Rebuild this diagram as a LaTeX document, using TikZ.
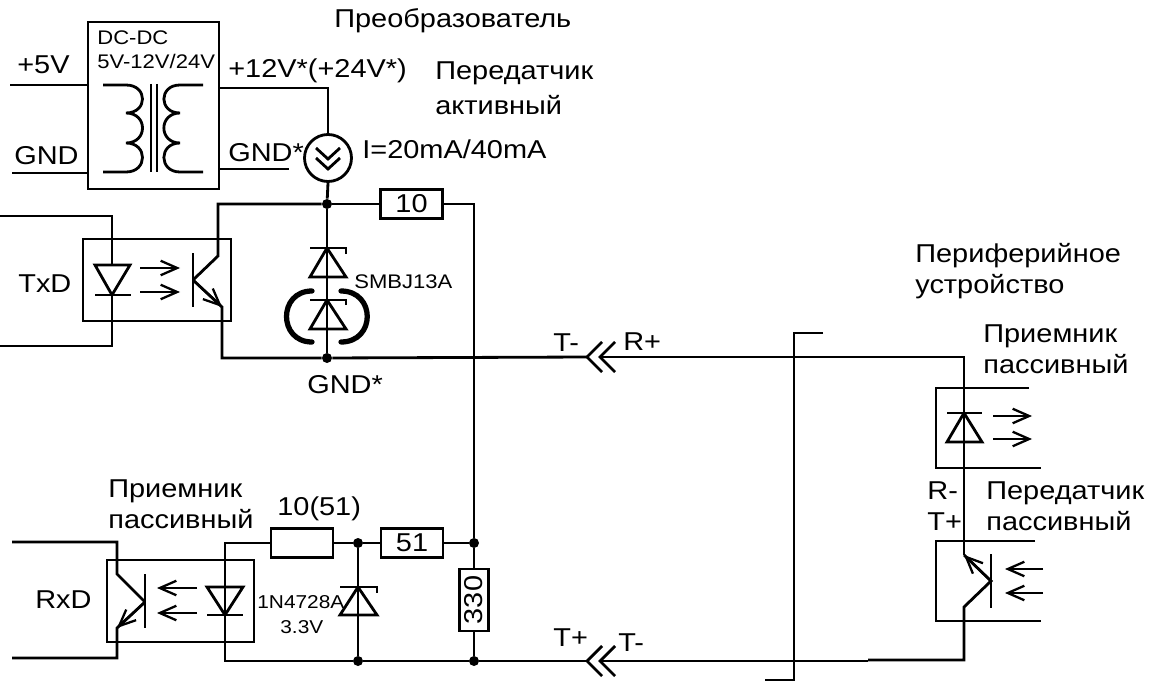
\documentclass[tikz,border=0pt]{standalone}
\usepackage{fontspec}
\setmainfont[FakeStretch=1.12]{Liberation Sans}
\usetikzlibrary{calc}
\usetikzlibrary{positioning}
\usetikzlibrary{arrows.meta}
\tikzset{
    wire/.style={line width=1.6pt, line join=miter},
    heavy/.style={line width=3pt, line cap=round},
    lightarrow/.style={line width=1.3pt, -{Straight Barb[length=3.3mm,width=2.9mm,line width=1.3pt]}},
    dot/.style={circle, fill=black, inner sep=0pt, minimum size=0.2cm},
    res/.style={draw, rectangle, line width=1.6pt, inner sep=0pt, minimum width=1.24cm, minimum height=0.58cm, font=\fontsize{14.7}{17}\selectfont},
    lbl/.style={anchor=base west, inner sep=0pt, font=\fontsize{14.7}{17}\selectfont},
    small/.style={anchor=base west, inner sep=0pt, font=\fontsize{11.2}{13}\selectfont}
}
\begin{document}
\begin{tikzpicture}[x=0.02cm, y=-0.02cm]
    \useasboundingbox (0,0) rectangle (1152,682);

    % Junctions
    \node[dot] (j1) at (327,204) {};
    \node[dot] (j2) at (327,358) {};
    \node[dot] (j3) at (358,543) {};
    \node[dot] (j4) at (474,543) {};
    \node[dot] (j5) at (358,661) {};
    \node[dot] (j6) at (474,661) {};

    % DC-DC converter
    \node[draw, wire, minimum width=2.62cm, minimum height=3.34cm, inner sep=0pt] (dcdc) at (153.5,105.5) {};
    \coordinate (in5v) at (10,85);
    \coordinate (ingnd) at (12,173);
    \coordinate (outv) at (219,88);
    \coordinate (outgnd) at (289,169);
    \draw[wire] (in5v) -- (in5v -| dcdc.west);
    \draw[wire] (ingnd) -- (ingnd -| dcdc.west);
    \draw[wire] (103,85) -- (126,85)
        .. controls (148,85) and (148,113) .. (126,113)
        .. controls (148,113) and (148,143) .. (126,143)
        .. controls (148,143) and (148,172) .. (126,172) -- (103,172);
    \draw[wire] (203,85) -- (180,85)
        .. controls (158.5,85) and (158.5,113) .. (180,113)
        .. controls (158.5,113) and (158.5,143) .. (180,143)
        .. controls (158.5,143) and (158.5,172) .. (180,172) -- (203,172);
    \draw[wire] (151,84) -- (151,172);
    \draw[wire] (157,84) -- (157,172);
    \node[small] (dclabel) at (97,45) {DC-DC};
    \node[small] (dcratio) at (97,69) {5V-12V/24V};
    \node[lbl] (plus5) at (17,74) {+5V};
    \node[lbl] (gndin) at (14,165) {GND};

    % Current source
    \node[draw, wire, circle, inner sep=0pt, minimum size=0.94cm] (csrc) at (328,158) {};
    \draw[wire] (outv -| dcdc.east) -- (outv) -- (outv -| csrc.north) -- (csrc.north);
    \draw[wire] (outgnd -| dcdc.east) -- (outgnd);
    \draw[wire] (316,148) -- (328,159) -- (340,148);
    \draw[wire] (316,158) -- (328,169) -- (340,158);
    \draw[wire] (csrc.south) -- (j1);
    \node[lbl] (plus12) at (228,78) {+12V*(+24V*)};
    \node[lbl] (gndout) at (228,162) {GND*};
    \node[lbl] (ilabel) at (362,159) {I=20mA/40mA};
    \node[lbl] (convtitle) at (334,28) {Преобразователь};
    \node[lbl] (txtitle) at (435,80) {Передатчик};
    \node[lbl] (txtitleb) at (435,115) {активный};

    % Transmit optocoupler
    \node[draw, wire, minimum width=2.96cm, minimum height=1.64cm, inner sep=0pt] (txbox) at (157,280) {};
    \coordinate (txa) at (0,216);
    \coordinate (txk) at (0,346);
    \draw[wire] (txa) -- (112,216) -- (112,265);
    \draw[wire] (95,265) -- (130,265) -- (112,295) -- cycle;
    \draw[wire] (95,295) -- (131,295);
    \draw[wire] (112,295) -- (112,346) -- (txk);
    \draw[lightarrow] (140,268) -- (180,268);
    \draw[lightarrow] (140,292) -- (180,292);
    \draw[wire] (193,253) -- (193,307);
    \draw[wire] (j1) -- (218,204) -- (218,256) -- (193,280);
    \draw[wire] (193,280) -- (222,307) -- (222,358) -- (j2);
    \draw[lightarrow] (193,280) -- (222,307);
    \node[lbl] (txd) at (18,292) {TxD};

    % Protection diodes
    \draw[wire] (j1) -- (j2);
    \draw[wire] (346,254) -- (346,248) -- (310,248);
    \draw[wire] (327,248) -- (310,277) -- (346,277) -- cycle;
    \draw[wire] (346,305) -- (346,300) -- (310,300);
    \draw[wire] (327,300) -- (310,329) -- (346,329) -- cycle;
    \draw[heavy] (312,291) .. controls (278,291) and (278,342) .. (312,342);
    \draw[heavy] (341,291) .. controls (376,291) and (376,342) .. (341,342);
    \node[small] (smbj) at (354,288) {SMBJ13A};
    \node[lbl] (gndstar) at (307,393) {GND*};

    % Resistors
    \node[res] (r10) at (411.5,204) {10};
    \node[res] (r1051) at (302,543) {};
    \node[res] (r51) at (412,543) {51};
    \node[res, rotate=90] (r330) at (474,600) {330};
    \draw[wire] (j1) -- (r10.west);
    \draw[wire] (r10.east) -- (474,204) -- (j4);
    \draw[wire] (r1051.east) -- (j3) -- (r51.west);
    \draw[wire] (r51.east) -- (j4) -- (r330.east);
    \draw[wire] (r330.west) -- (j6);
    \node[lbl] (r1051val) at (277,515) {10(51)};

    % Receive optocoupler
    \node[draw, wire, minimum width=2.94cm, minimum height=1.64cm, inner sep=0pt] (rxbox) at (180.5,601) {};
    \coordinate (rxc) at (12,542);
    \coordinate (rxe) at (12,658);
    \draw[wire] (rxc) -- (117,542) -- (117,574) -- (145,602);
    \draw[wire] (145,574) -- (145,628);
    \draw[wire] (145,602) -- (117,628) -- (117,658) -- (rxe);
    \draw[lightarrow] (145,602) -- (117,628);
    \draw[lightarrow] (197,588) -- (157,588);
    \draw[lightarrow] (197,613) -- (157,613);
    \draw[wire] (r1051.west) -- (225,543) -- (225,661) -- (j5);
    \draw[wire] (207,587) -- (243,587) -- (225,615) -- cycle;
    \draw[wire] (207,615) -- (243,615);
    \node[lbl] (rxd) at (35,608) {RxD};
    \node[lbl] (rxtitle) at (108,497) {Приемник};
    \node[lbl] (rxtitleb) at (108,528) {пассивный};

    % Zener
    \draw[wire] (j3) -- (j5);
    \draw[wire] (340,587) -- (377,587) -- (377,593);
    \draw[wire] (358,587) -- (340,615) -- (377,615) -- cycle;
    \node[small, font=\fontsize{10.6}{13}\selectfont] (zener) at (257,608) {1N4728A};
    \node[small, font=\fontsize{10.6}{13}\selectfont] (zenerv) at (280,633) {3.3V};

    % Connectors
    \coordinate (toptip) at (587,357);
    \coordinate (botip) at (587,661);
    \draw[wire] (j2) -- (toptip);
    \draw[wire] (602,342) -- (toptip) -- (602,372);
    \draw[wire] (615,342) -- (600,357) -- (615,372);
    \draw[wire] (j5) -- (j6) -- (botip);
    \draw[wire] (602,646) -- (botip) -- (602,676);
    \draw[wire] (615,646) -- (600,661) -- (615,676);
    \node[lbl] (tminus) at (553,351) {T-};
    \node[lbl] (rplus) at (623,350) {R+};
    \node[lbl] (tplus) at (553,646) {T+};
    \node[lbl] (tminusb) at (618,651) {T-};

    % Cable boundary
    \draw[wire] (823,333) -- (794,333) -- (794,680) -- (765,680);

    % Peripheral device
    \draw[wire] (600,357) -- (964,357) -- (964,555);
    \draw[wire] (1029,388) -- (936,388) -- (936,468) -- (1041,468);
    \draw[wire] (947,413) -- (982,413);
    \draw[wire] (964,413) -- (947,442) -- (982,442) -- cycle;
    \draw[lightarrow] (993,416) -- (1032,416);
    \draw[lightarrow] (993,439) -- (1032,439);
    \draw[wire] (1035,541) -- (936,541) -- (936,621) -- (1041,621);
    \draw[wire] (991,554) -- (991,608);
    \draw[wire] (964,555) -- (991,581) -- (964,607) -- (964,660) -- (868,660);
    \draw[wire] (868,661) -- (600,661);
    \draw[lightarrow] (991,581) -- (964,555);
    \draw[lightarrow] (1043,569) -- (1005,569);
    \draw[lightarrow] (1043,593) -- (1005,593);
    \node[lbl] (periph) at (915,262) {Периферийное};
    \node[lbl] (periphb) at (915,293) {устройство};
    \node[lbl] (prxtitle) at (983,342) {Приемник};
    \node[lbl] (prxtitleb) at (983,373) {пассивный};
    \node[lbl] (rminus) at (927,499) {R-};
    \node[lbl] (tplusb) at (927,530) {T+};
    \node[lbl] (ptxtitle) at (986,499) {Передатчик};
    \node[lbl] (ptxtitleb) at (986,530) {пассивный};
\end{tikzpicture}
\end{document}
